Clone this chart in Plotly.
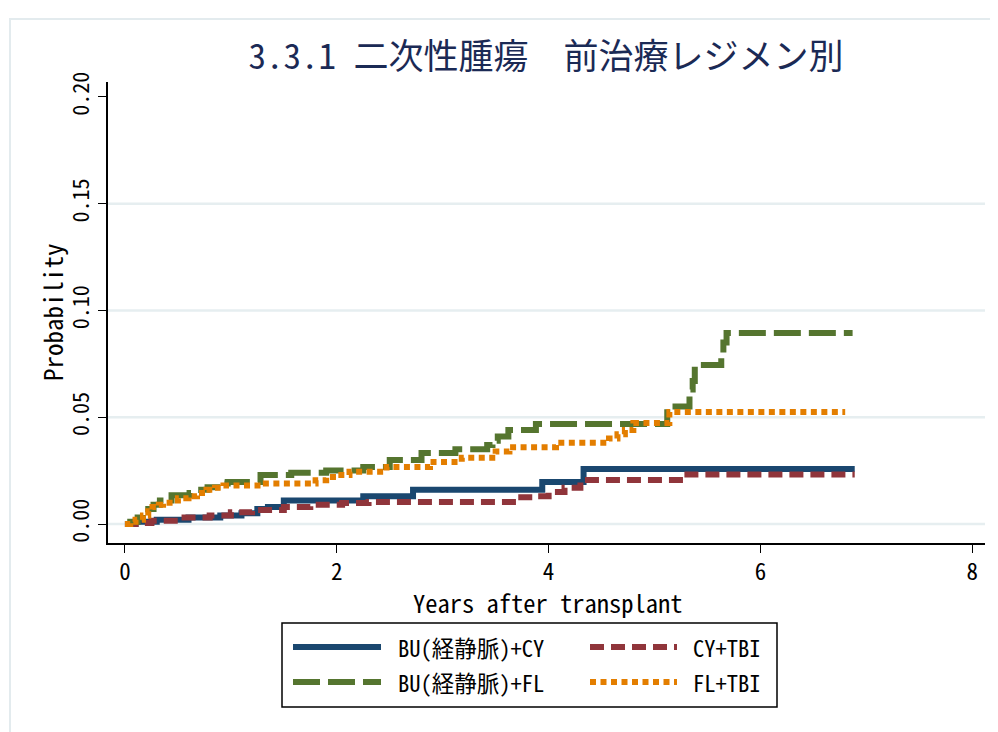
import plotly.graph_objects as go

# step data (years, cumulative probability)
bucy_x = [0, 0.1, 0.3, 0.6, 0.9, 1.1, 1.25, 1.35, 1.5, 2.25, 2.72, 3.94, 4.33, 6.89]
bucy_y = [0, 0.001, 0.002, 0.003, 0.004, 0.005, 0.007, 0.008, 0.011, 0.013, 0.016, 0.0197, 0.0258, 0.0258]

cytbi_x = [0, 0.1, 0.25, 0.5, 0.8, 1.0, 1.2, 1.5, 1.75, 2.05, 2.3, 3.7, 3.85, 4.0, 4.15, 4.3, 5.28, 6.89]
cytbi_y = [0, 0.0005, 0.0015, 0.003, 0.004, 0.0055, 0.0065, 0.008, 0.009, 0.0098, 0.0103, 0.0125, 0.013,
           0.015, 0.017, 0.0206, 0.0232, 0.0232]

bufl_x = [0, 0.05, 0.12, 0.17, 0.22, 0.27, 0.33, 0.44, 0.61, 0.72, 0.78, 0.9, 0.97, 1.28, 1.57, 1.9,
          2.25, 2.5, 2.8, 3.12, 3.42, 3.47, 3.52, 3.62, 3.88, 5.12, 5.33, 5.36, 5.38, 5.63, 5.65, 5.68, 6.87]
bufl_y = [0, 0.001, 0.003, 0.005, 0.007, 0.009, 0.011, 0.0135, 0.0145, 0.016, 0.0172, 0.019, 0.0197,
          0.023, 0.024, 0.025, 0.0267, 0.030, 0.0333, 0.035, 0.037, 0.039, 0.041, 0.044, 0.0468, 0.055,
          0.063, 0.067, 0.0745, 0.080, 0.085, 0.0895, 0.0895]

fltbi_x = [0, 0.05, 0.1, 0.17, 0.22, 0.26, 0.32, 0.36, 0.45, 0.5, 0.6, 0.68, 0.77, 0.85, 0.93, 1.3, 1.8,
           1.9, 2.0, 2.12, 2.47, 2.88, 3.18, 3.5, 3.63, 4.07, 4.57, 4.65, 4.72, 4.8, 5.14, 6.8]
fltbi_y = [0, 0.001, 0.002, 0.004, 0.006, 0.008, 0.009, 0.010, 0.011, 0.012, 0.013, 0.0145, 0.016,
           0.017, 0.018, 0.019, 0.0205, 0.022, 0.023, 0.0245, 0.0267, 0.029, 0.031, 0.034, 0.036, 0.038,
           0.040, 0.042, 0.044, 0.0473, 0.0525, 0.0525]

series_names = ["BU(経静脈)+CY", "CY+TBI", "BU(経静脈)+FL", "FL+TBI"]
x_ticks = [0, 2, 4, 6, 8]
y_ticks = [0, 0.05, 0.10, 0.15, 0.20]
y_grid = [0, 0.05, 0.10, 0.15]

MONO = "Noto Sans Mono CJK JP, Noto Sans CJK JP, DejaVu Sans Mono, monospace"

# ページの body margin (8px) を差し引いたサイズ
W, H = 990, 724
L, R, T, B = 100, 13, 74, 189
PW, PH = W - L - R, H - T - B


# 画面上のピクセル位置 -> paper 座標
def px(x):
    return (x - 8 - L) / PW


def py(y):
    return (H - B - (y - 8)) / PH


styles = [
    dict(color="#1a476f", width=6, dash="solid"),
    dict(color="#90353b", width=6, dash="14px,7px"),
    dict(color="#55752f", width=6, dash="27px,8px"),
    dict(color="#e37e00", width=6, dash="6px,4.5px"),
]
data = [(bucy_x, bucy_y), (cytbi_x, cytbi_y), (bufl_x, bufl_y), (fltbi_x, fltbi_y)]

fig = go.Figure()

for yv in y_grid:
    fig.add_hline(y=yv, line_color="#e6eef0", line_width=2.5, layer="below")

for (xs, ys), name, st in zip(data, series_names, styles):
    fig.add_trace(go.Scatter(
        x=xs, y=ys, name=name, mode="lines",
        line=dict(shape="hv", **st),
        hovertemplate="%{x:.2f}年<br>%{y:.3f}<extra>" + name + "</extra>",
    ))

# 凡例 (Stata風に手描き)
fig.add_shape(type="rect", xref="paper", yref="paper",
              x0=px(282), x1=px(777), y0=py(623), y1=py(707),
              line=dict(color="black", width=1.5), fillcolor="white")
rows = [647, 682]
cols = [(293, 381, 396), (590, 677, 691)]
order = [(0, 0), (0, 1), (1, 0), (1, 1)]
for (r, c), name, st in zip(order, series_names, styles):
    x0, x1, xt = cols[c]
    fig.add_shape(type="line", xref="paper", yref="paper",
                  x0=px(x0), x1=px(x1), y0=py(rows[r]), y1=py(rows[r]),
                  line=dict(color=st["color"], width=st["width"], dash=st["dash"]))
    fig.add_annotation(text=name, xref="paper", yref="paper", x=px(xt), y=py(rows[r]),
                       xanchor="left", yanchor="middle", showarrow=False,
                       font=dict(family=MONO, size=22.5, color="black"))

# 軸タイトル
fig.add_annotation(text="Years after transplant", xref="paper", yref="paper",
                   x=px(548), y=py(602), xanchor="center", yanchor="middle", showarrow=False,
                   font=dict(family=MONO, size=24.5, color="black"))
fig.add_annotation(text="Probability", xref="paper", yref="paper", textangle=-90,
                   x=px(52), y=py(312), xanchor="center", yanchor="middle", showarrow=False,
                   font=dict(family=MONO, size=25, color="black"))

# グラフ領域の外枠
fig.add_shape(type="rect", xref="paper", yref="paper",
              x0=px(10), x1=px(1005), y0=py(19), y1=py(745),
              line=dict(color="#e3ebee", width=2), layer="below")

fig.update_layout(
    width=W, height=H,
    margin=dict(l=L, r=R, t=T, b=B),
    plot_bgcolor="white", paper_bgcolor="white",
    showlegend=False,
    title=dict(text="3.3.1 二次性腫瘍　前治療レジメン別", x=538 / W, xanchor="center",
               y=1 - 49 / H, yanchor="middle", yref="container",
               font=dict(family=MONO, size=35, color="#1b2a55")),
    xaxis=dict(
        range=[-0.16, 8.12], tickvals=x_ticks, showgrid=False, zeroline=False,
        showline=True, linecolor="black", linewidth=1.5,
        ticks="outside", ticklen=8, tickcolor="black", tickwidth=1.2,
        tickfont=dict(family=MONO, size=23, color="black"),
    ),
    yaxis=dict(
        range=[-0.0089, 0.207], tickvals=y_ticks, tickformat=".2f", showgrid=False, zeroline=False,
        showline=True, linecolor="black", linewidth=1.5,
        ticks="outside", ticklen=8, tickcolor="black", tickwidth=1.2, tickangle=-90,
        tickfont=dict(family=MONO, size=22, color="black"),
    ),
)

fig.write_html("out.html")
